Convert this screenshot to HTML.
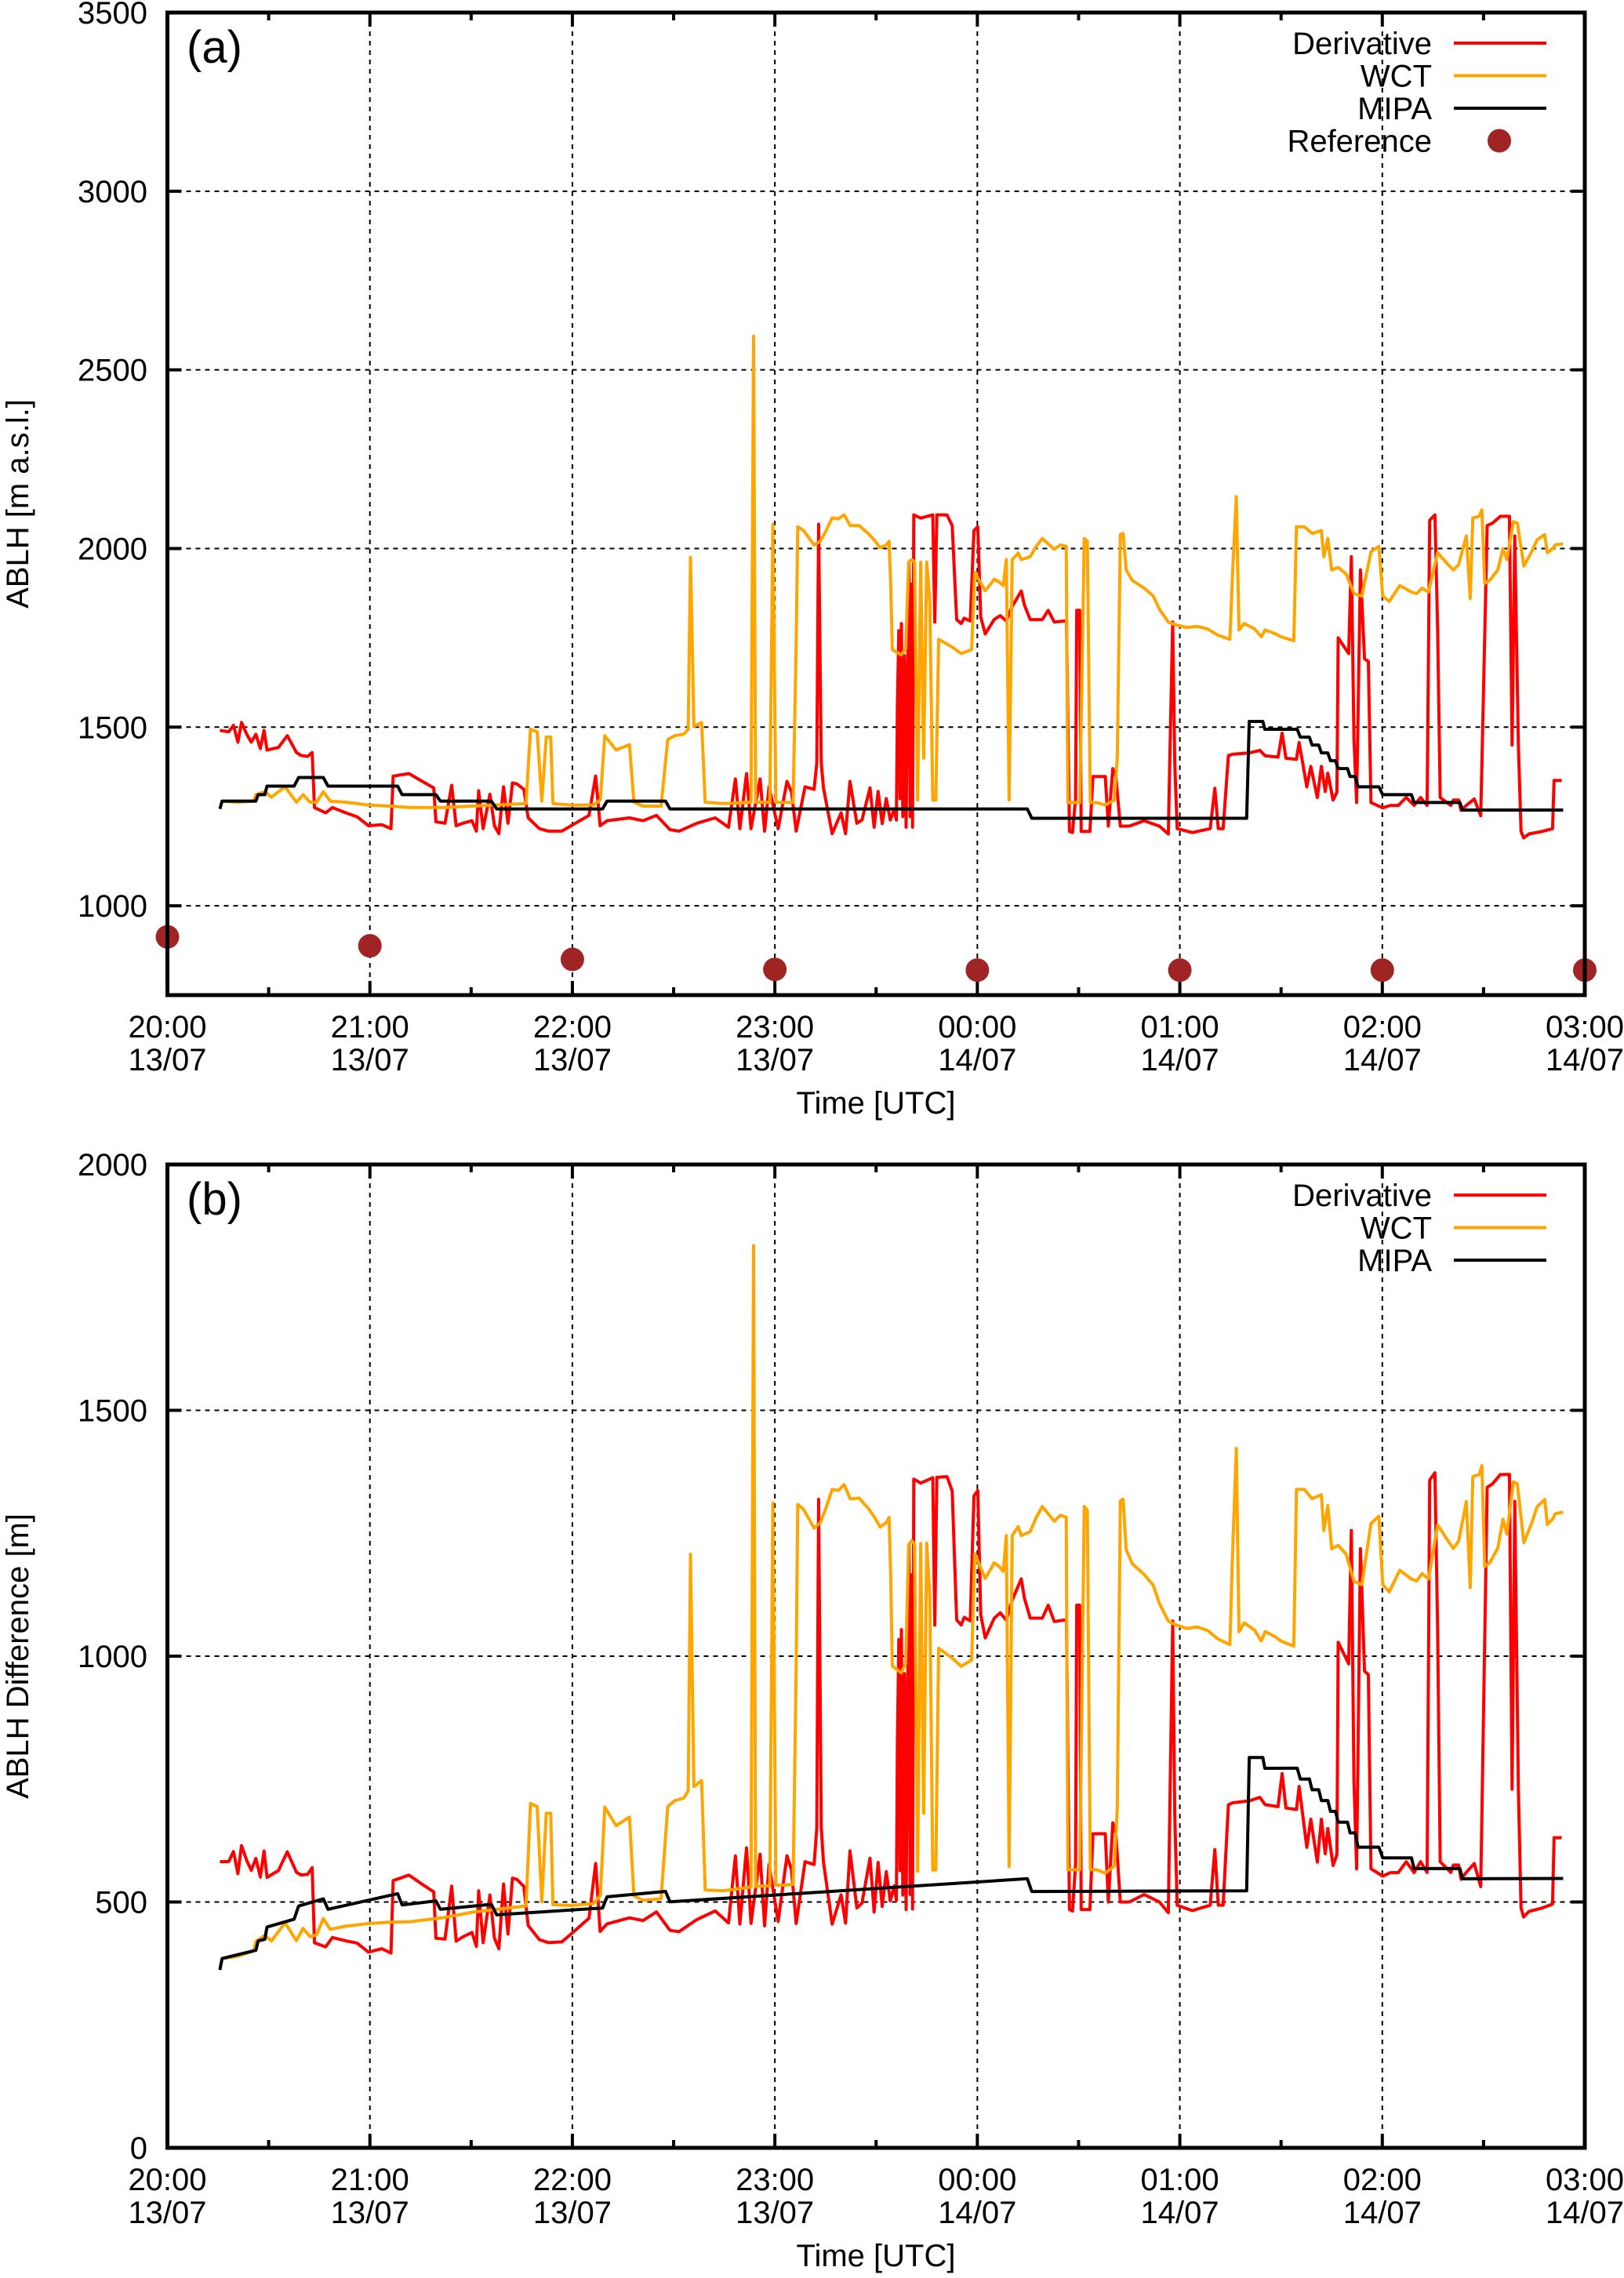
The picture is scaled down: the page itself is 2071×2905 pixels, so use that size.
<!DOCTYPE html>
<html><head><meta charset="utf-8"><title>ABLH comparison</title>
<style>
html,body{margin:0;padding:0;background:#fff;}
svg{display:block;font-family:"Liberation Sans",Arial,sans-serif;}
</style></head>
<body>
<svg id="chart" xmlns="http://www.w3.org/2000/svg" width="2071" height="2905" viewBox="0 0 2071 2905">
<rect x="0" y="0" width="2071" height="2905" fill="#fff"/>
</svg>
<script>
// ---- data (time in hours after 20:00 13/07, height in m) ----
const hourLabels = ["20:00","21:00","22:00","23:00","00:00","01:00","02:00","03:00"];
const dateLabels = ["13/07","13/07","13/07","13/07","14/07","14/07","14/07","14/07"];
const yTicksA = [1000,1500,2000,2500,3000,3500];
const yTicksB = [0,500,1000,1500,2000];
const refT = [0,1,2,3,4,5,6,7];
const refV = [913,888,850,822,820,820,820,820];
const baseT = [0.25,0.5,0.75,1,1.5,2,2.5,3,3.5,4,7];
const baseV = [910,885,855,825,800,789,770,756,740,724,720];
const derivT = [0.259,0.303,0.326,0.348,0.366,0.392,0.414,0.437,0.459,0.477,0.492,0.548,0.592,0.637,0.659,0.692,0.715,0.726,0.781,0.815,0.882,0.937,0.993,1.059,1.104,1.115,1.193,1.259,1.315,1.326,1.371,1.404,1.426,1.459,1.504,1.526,1.537,1.559,1.593,1.615,1.637,1.660,1.682,1.704,1.726,1.760,1.782,1.837,1.882,1.948,2.015,2.082,2.115,2.137,2.171,2.282,2.349,2.415,2.482,2.527,2.615,2.705,2.771,2.805,2.827,2.860,2.882,2.927,2.949,2.971,3.016,3.060,3.082,3.105,3.149,3.194,3.207,3.216,3.229,3.24,3.283,3.327,3.349,3.371,3.405,3.43,3.47,3.49,3.51,3.53,3.55,3.57,3.59,3.60,3.605,3.612,3.618,3.625,3.632,3.64,3.648,3.655,3.662,3.668,3.675,3.68,3.686,3.72,3.78,3.79,3.80,3.85,3.876,3.891,3.898,3.92,3.935,3.965,3.983,4.002,4.017,4.039,4.083,4.113,4.143,4.172,4.217,4.232,4.261,4.321,4.350,4.380,4.432,4.44,4.455,4.47,4.485,4.491,4.505,4.513,4.528,4.556,4.571,4.632,4.647,4.669,4.684,4.706,4.75,4.824,4.899,4.943,4.95,4.965,4.975,4.987,5.062,5.15,5.173,5.19,5.214,5.24,5.26,5.344,5.395,5.421,5.485,5.505,5.524,5.576,5.589,5.627,5.647,5.679,5.699,5.718,5.731,5.757,5.776,5.782,5.834,5.847,5.860,5.873,5.892,5.912,5.931,5.944,6.002,6.04,6.079,6.118,6.157,6.189,6.221,6.234,6.260,6.273,6.286,6.338,6.351,6.377,6.389,6.415,6.454,6.486,6.518,6.544,6.583,6.628,6.641,6.654,6.672,6.685,6.698,6.724,6.789,6.841,6.848,6.886];
const derivV = [1491,1487,1505,1458,1513,1480,1458,1480,1440,1491,1436,1443,1476,1429,1421,1418,1429,1275,1260,1275,1260,1249,1224,1227,1216,1363,1370,1348,1330,1235,1231,1337,1224,1231,1238,1209,1322,1216,1312,1224,1202,1333,1231,1344,1341,1326,1246,1216,1209,1209,1231,1253,1363,1224,1238,1246,1238,1253,1213,1209,1231,1246,1220,1355,1216,1370,1216,1355,1209,1333,1216,1348,1319,1209,1333,1326,1400,2068,1400,1330,1202,1260,1202,1348,1231,1240,1330,1220,1320,1230,1300,1240,1270,1240,1560,1770,1300,1790,1250,1700,1220,1620,1960,1250,1900,1220,2094,2085,2094,1794,2094,2094,2064,1882,1801,1790,1805,1797,2050,2061,1808,1761,1801,1812,1797,1838,1881,1842,1801,1801,1827,1794,1797,1797,1208,1205,1300,1827,1827,1208,1208,1208,1362,1362,1223,1384,1362,1223,1223,1238,1223,1201,1400,1794,1400,1216,1205,1216,1329,1216,1216,1420,1424,1428,1435,1420,1416,1483,1413,1410,1457,1333,1390,1303,1390,1320,1371,1296,1318,1750,1706,1977,1470,1289,1940,1691,1684,1289,1274,1281,1281,1303,1281,1303,1281,2079,2094,1779,1303,1281,1296,1296,1267,1281,1299,1252,2064,2071,2090,2090,1450,2035,1450,1208,1190,1201,1208,1216,1351,1351];
const wctT = [0.27,0.348,0.426,0.437,0.481,0.514,0.548,0.581,0.637,0.670,0.704,0.737,0.770,0.804,0.882,0.993,1.104,1.193,1.282,1.371,1.504,1.615,1.771,1.793,1.826,1.849,1.871,1.893,1.904,1.993,2.105,2.138,2.160,2.216,2.282,2.304,2.349,2.438,2.471,2.505,2.550,2.572,2.583,2.600,2.638,2.656,2.749,2.882,2.895,2.905,2.975,2.990,3.005,3.046,3.090,3.105,3.113,3.142,3.194,3.224,3.253,3.283,3.313,3.342,3.372,3.416,3.461,3.490,3.520,3.550,3.564,3.572,3.580,3.624,3.646,3.661,3.676,3.690,3.705,3.720,3.735,3.750,3.765,3.780,3.795,3.809,3.876,3.920,3.972,3.987,4.009,4.039,4.069,4.083,4.106,4.128,4.143,4.157,4.172,4.202,4.217,4.261,4.291,4.321,4.350,4.380,4.410,4.439,4.447,4.506,4.528,4.543,4.558,4.587,4.632,4.676,4.691,4.706,4.720,4.735,4.765,4.824,4.869,4.899,4.943,4.982,5.034,5.085,5.137,5.189,5.247,5.26,5.279,5.292,5.318,5.369,5.402,5.422,5.473,5.499,5.563,5.576,5.615,5.653,5.699,5.711,5.731,5.750,5.782,5.821,5.860,5.899,5.944,5.983,6.002,6.034,6.086,6.144,6.170,6.196,6.228,6.273,6.325,6.351,6.377,6.415,6.434,6.447,6.479,6.492,6.506,6.531,6.570,6.596,6.615,6.647,6.667,6.699,6.738,6.764,6.802,6.815,6.841,6.854,6.893];
const wctV = [1293,1290,1293,1311,1319,1304,1319,1333,1290,1311,1290,1290,1319,1293,1290,1282,1279,1275,1275,1275,1279,1282,1286,1494,1487,1293,1472,1472,1286,1282,1282,1297,1476,1436,1451,1290,1279,1279,1465,1476,1480,1494,1975,1502,1513,1290,1286,1290,2594,1290,1290,2068,1290,1289,1289,1735,2061,2050,2010,2020,2050,2086,2083,2094,2064,2064,2042,2024,2002,2010,2020,1903,1717,1702,1720,1962,1969,1962,1296,1962,1413,1962,1852,1296,1296,1746,1724,1706,1717,1933,1911,1882,1903,1914,1907,1896,1969,1296,1969,1987,1969,1977,2006,2028,2013,1998,2010,2006,1289,1289,2028,2020,1289,1289,1282,1296,1413,2039,2042,1940,1911,1889,1867,1830,1794,1786,1779,1782,1775,1757,1746,1925,2145,1772,1790,1775,1753,1772,1761,1753,1742,2061,2061,2042,2050,1977,2028,1940,1947,1929,1874,1867,1991,2006,1867,1852,1896,1878,1874,1889,1878,1988,1955,1940,1955,2035,1860,2086,2090,2108,1903,1911,1940,1999,1969,2075,2071,1951,1991,2024,2039,1988,1999,2010,2013];
const mipaT = [0.259,0.27,0.437,0.448,0.481,0.492,0.626,0.648,0.770,0.793,1.137,1.159,1.326,1.348,1.6,1.626,2.149,2.171,2.46,2.482,4.247,4.269,5.33,5.343,5.41,5.42,5.58,5.595,5.64,5.653,5.686,5.699,5.731,5.744,5.769,5.782,5.828,5.841,5.866,5.88,5.983,6.002,6.144,6.157,6.383,6.396,6.893];
const mipaV = [1271,1293,1293,1311,1311,1335,1335,1359,1359,1335,1335,1311,1311,1293,1293,1271,1271,1293,1293,1271,1271,1245,1245,1516,1516,1494,1494,1472,1472,1450,1450,1428,1428,1406,1406,1384,1384,1362,1362,1333,1333,1311,1311,1289,1289,1268,1268];

const NS = "http://www.w3.org/2000/svg";
const svg = document.getElementById('chart');
function mk(tag, attrs, parent){
  const e = document.createElementNS(NS, tag);
  for (const k in attrs) e.setAttribute(k, attrs[k]);
  (parent||svg).appendChild(e);
  return e;
}
function interp(ts, vs, t){
  if (t <= ts[0]) return vs[0];
  for (let i=1;i<ts.length;i++){ if (t <= ts[i]) { const f=(t-ts[i-1])/(ts[i]-ts[i-1]); return vs[i-1]+f*(vs[i]-vs[i-1]); } }
  return vs[vs.length-1];
}
const L = 213.5, R = 2021;
function xs(t){ return L + (R-L)*t/7; }

function panel(cfg){
  const g = mk('g', {});
  
  
  const ys = v => cfg.bottom - (v-cfg.ymin)/(cfg.ymax-cfg.ymin)*(cfg.bottom-cfg.top);
  const clipId = cfg.name + '-clip';
  const cp = mk('clipPath', {id: clipId}, g);
  mk('rect', {x:L, y:cfg.top, width:R-L, height:cfg.bottom-cfg.top}, cp);
  // grid
  const grid = mk('g', {stroke:'#000','stroke-width':2,'stroke-dasharray':'6,6'}, g);
  
  
  for (let i=1;i<7;i++) mk('line', {x1:xs(i), x2:xs(i), y1:cfg.top, y2:cfg.bottom}, grid);
  cfg.yticks.forEach(v => { if (v>cfg.ymin && v<cfg.ymax) mk('line', {x1:L, x2:R, y1:ys(v), y2:ys(v)}, grid); });
  // ticks
  const tk = mk('g', {stroke:'#000','stroke-width':4}, g);
  for (let i=0;i<=14;i++){
    const len = i%2===0 ? 18 : 10;
    mk('line', {x1:xs(i/2), x2:xs(i/2), y1:cfg.bottom, y2:cfg.bottom-len}, tk);
    mk('line', {x1:xs(i/2), x2:xs(i/2), y1:cfg.top, y2:cfg.top+len}, tk);
  }
  cfg.yticks.forEach(v => {
    mk('line', {x1:L, x2:L+18, y1:ys(v), y2:ys(v)}, tk);
    mk('line', {x1:R, x2:R-18, y1:ys(v), y2:ys(v)}, tk);
    const t = mk('text', {x:188, y:ys(v)+14, 'text-anchor':'end','font-size':40}, g);
    t.textContent = v;
    
    
  });
  hourLabels.forEach((h,i) => {
    const t1 = mk('text', {x:xs(i), y:cfg.bottom+54, 'text-anchor':'middle','font-size':40}, g);
    t1.textContent = h;
    
    
    const t2 = mk('text', {x:xs(i), y:cfg.bottom+96, 'text-anchor':'middle','font-size':40}, g);
    t2.textContent = dateLabels[i];
    
    
  });
  const xt = mk('text', {x:1117, y:cfg.bottom+151, 'text-anchor':'middle','font-size':40}, g);
  xt.textContent = 'Time [UTC]';
  
  
  const yt = mk('text', {x:0, y:0, 'text-anchor':'middle','font-size':40, transform:`translate(36,${(cfg.top+cfg.bottom)/2}) rotate(-90)`}, g);
  yt.textContent = cfg.ytitle;
  
  
  const pl = mk('text', {x:238, y:cfg.top+64, 'font-size':58}, g);
  pl.textContent = cfg.label;
  
  
  // series
  const series = [
    {name:'derivative-line', T:derivT, V:derivV, color:'#ff0000'},
    {name:'wct-line', T:wctT, V:wctV, color:'#ffa500'},
    {name:'mipa-line', T:mipaT, V:mipaV, color:'#000000'}
  ];
  series.forEach(s => {
    const pts = s.T.map((t,i) => xs(t).toFixed(1)+','+ys(cfg.diff ? s.V[i]-interp(baseT,baseV,t) : s.V[i]).toFixed(1)).join(' ');
    const p = mk('polyline', {points:pts, fill:'none', stroke:s.color, 'stroke-width':4, 'stroke-linejoin':'round', 'clip-path':`url(#${clipId})`}, g);
    
    
  });
  if (cfg.ref){
    refT.forEach((t,i) => {
      const c = mk('circle', {cx:xs(t), cy:ys(refV[i]), r:15, fill:'#a02424'}, g);
      
      
    });
  }
  // frame
  const fr = mk('rect', {x:L, y:cfg.top, width:R-L, height:cfg.bottom-cfg.top, fill:'none', stroke:'#000','stroke-width':5}, g);
  
  
  // legend
  const lg = mk('g', {}, g);
  
  
  const items = [['Derivative','#ff0000','line'],['WCT','#ffa500','line'],['MIPA','#000','line']];
  if (cfg.ref) items.push(['Reference','#a02424','dot']);
  items.forEach((it,i) => {
    const y = cfg.top + 39 + i*41.5;
    const tx = mk('text', {x:1826, y:y+14, 'text-anchor':'end','font-size':40}, lg);
    tx.textContent = it[0];
    
    
    if (it[2]==='line') mk('line', {x1:1854, x2:1972, y1:y, y2:y, stroke:it[1], 'stroke-width':4}, lg);
    else mk('circle', {cx:1912, cy:y, r:15, fill:it[1]}, lg);
  });
}
panel({name:'panel-a', top:16, bottom:1269, ymin:750, ymax:3500, yticks:yTicksA, ytitle:'ABLH [m a.s.l.]', label:'(a)', ref:true, diff:false});
panel({name:'panel-b', top:1485, bottom:2739, ymin:0, ymax:2000, yticks:yTicksB, ytitle:'ABLH Difference [m]', label:'(b)', ref:false, diff:true});
</script>
</body></html>
